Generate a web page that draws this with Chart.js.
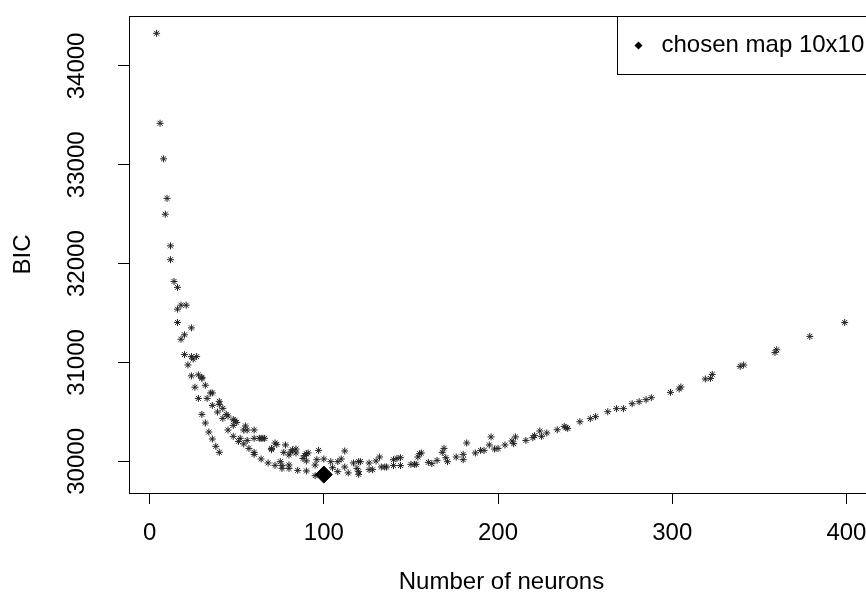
<!DOCTYPE html>
<html><head><meta charset="utf-8">
<script src="https://cdn.jsdelivr.net/npm/chart.js@4/dist/chart.umd.min.js"></script>
<style>
html,body{margin:0;padding:0;background:#fff;overflow:hidden;width:866px;height:605px}
#wrap{position:relative;width:900px;height:605px}
</style></head>
<body><div id="wrap"><canvas id="c" width="900" height="605"></canvas></div>
<script>
// Number of neurons (x) and BIC (y) for every trained map
const neurons = [4,6,8,9,10,12,12,14,16,18,21,16,16,24,20,18,20,24,25,27,22,24,28,30,30,26,32,35,36,28,33,40,40,36,39,42,44,45,42,30,48,49,50,48,32,34,45,55,54,56,60,36,48,52,51,60,63,64,65,66,38,54,56,57,40,60,60,64,68,72,70,70,72,73,75,76,76,80,80,85,90,78,77,81,82,84,84,80,88,89,90,91,90,96,97,100,95,95,104,105,108,108,110,112,112,114,117,119,120,121,120,120,126,126,128,130,132,133,135,136,140,140,142,144,144,150,152,153,154,155,156,160,162,165,168,169,170,171,176,180,180,182,187,190,192,196,195,198,200,204,208,210,209,216,220,221,224,225,228,234,238,239,240,247,253,256,263,268,272,277,281,285,288,299,304,305,319,322,323,339,341,359,360,379,399];
const bic = [34330,33420,33060,32500,32660,32180,32040,31820,31760,31580,31580,31540,31405,31350,31280,31235,31080,31060,31035,31060,30975,30865,30875,30850,30840,30750,30770,30692,30692,30637,30637,30607,30576,30566,30499,30536,30475,30459,30435,30475,30422,30412,30394,30364,30388,30297,30317,30358,30317,30317,30317,30226,30253,30233,30202,30233,30233,30233,30233,30233,30152,30176,30212,30131,30091,30091,30071,30024,29984,29960,30131,30118,30186,30172,29997,29957,29929,29964,29929,29909,29903,30166,30091,30095,30118,30125,30085,30065,30030,30058,30078,30085,30004,30017,30111,30024,29963,29855,29997,29936,29896,29997,30024,30105,29943,29883,29984,29929,29997,29997,29896,29869,29984,29916,29916,30004,30044,29943,29943,29943,29957,30017,30030,30037,29957,29970,29970,29970,30044,30078,30085,29990,29977,30010,30091,30131,30037,29997,30044,30071,30017,30186,30085,30111,30111,30247,30166,30125,30131,30166,30206,30247,30179,30212,30240,30260,30307,30253,30287,30320,30354,30341,30334,30401,30432,30452,30502,30533,30533,30583,30604,30624,30644,30698,30732,30752,30833,30839,30880,30961,30975,31102,31129,31264,31405];
// the chosen map
const chosenNeurons = [100];
const chosenBic = [29866];
// axis ticks
const xTicks = [0,100,200,300,400];
const yTicks = [30000,31000,32000,33000,34000];
const xLabel = 'Number of neurons';
const yLabel = 'BIC';
const legendLabel = 'chosen map 10x10';

const FONT = '"Liberation Sans", Arial, Helvetica, sans-serif';
const FSIZE = 24;

const boxPlugin = {
  id: 'rbox',
  afterDatasetsDraw(chart) {
    const {ctx, chartArea: a} = chart;
    ctx.save();
    ctx.strokeStyle = '#000';
    ctx.lineWidth = 1;
    ctx.strokeRect(Math.round(a.left) + 0.5, Math.round(a.top) + 0.5, Math.round(a.right - a.left), Math.round(a.bottom - a.top));
    // legend (top-right, inside the plot box)
    const w = 257, h = 58;
    const lx = Math.round(a.right - w) + 0.5, ly = Math.round(a.top) + 0.5;
    ctx.fillStyle = '#fff';
    ctx.fillRect(lx, ly, w, h);
    ctx.strokeRect(lx, ly, w, h);
    const cx = lx + 21, cy = ly + 29, r = 4;
    ctx.fillStyle = '#000';
    ctx.beginPath();
    ctx.moveTo(cx - r, cy); ctx.lineTo(cx, cy - r); ctx.lineTo(cx + r, cy); ctx.lineTo(cx, cy + r);
    ctx.closePath(); ctx.fill();
    ctx.font = FSIZE + 'px ' + FONT;
    ctx.textBaseline = 'middle';
    ctx.textAlign = 'left';
    ctx.fillText(legendLabel, lx + 44, cy);
    ctx.restore();
  }
};

new Chart(document.getElementById('c'), {
  type: 'scatter',
  data: {
    datasets: [
      {
        label: legendLabel,
        data: chosenNeurons.map((v, i) => ({x: v, y: chosenBic[i]})),
        pointStyle: 'rectRot', pointRadius: 8.5, pointHoverRadius: 8.5,
        backgroundColor: '#000', borderColor: '#000', borderWidth: 1, order: 0
      },
      {
        label: 'BIC',
        data: neurons.map((v, i) => ({x: v, y: bic[i]})),
        pointStyle: 'star', pointRadius: 3.5, pointHoverRadius: 3.5,
        backgroundColor: '#000', borderColor: '#222', borderWidth: 1, order: 1
      }
    ]
  },
  options: {
    responsive: false, animation: false, devicePixelRatio: 1,
    layout: {padding: {top: 16, right: 26, left: 0, bottom: 0}},
    plugins: {legend: {display: false}, tooltip: {enabled: false}},
    scales: {
      x: {
        type: 'linear', min: -11.84, max: 415.84,
        afterBuildTicks: s => { s.ticks = xTicks.map(v => ({value: v})); },
        afterFit: s => { s.height = 112; s.paddingLeft = 0; s.paddingRight = 0; },
        ticks: {font: {family: FONT, size: FSIZE}, color: '#000', padding: 14.6, maxRotation: 0, autoSkip: false, callback: v => String(v)},
        grid: {drawOnChartArea: false, drawTicks: true, tickLength: 11, color: '#000', lineWidth: 1},
        border: {display: false},
        title: {display: true, text: xLabel, color: '#000', font: {family: FONT, size: FSIZE}, padding: {top: 0, bottom: 8.6}}
      },
      y: {
        type: 'linear', min: 29680, max: 34505,
        afterBuildTicks: s => { s.ticks = yTicks.map(v => ({value: v})); },
        afterFit: s => { s.width = 129; s.paddingTop = 0; s.paddingBottom = 0; },
        ticks: {font: {family: FONT, size: FSIZE}, color: '#000', padding: 7.6, minRotation: 90, maxRotation: 90, crossAlign: 'center', autoSkip: false, callback: v => String(v)},
        grid: {drawOnChartArea: false, drawTicks: true, tickLength: 11, color: '#000', lineWidth: 1},
        border: {display: false},
        title: {display: true, text: yLabel, color: '#000', font: {family: FONT, size: FSIZE}, padding: {top: 9.1, bottom: 0}}
      }
    }
  },
  plugins: [boxPlugin]
});
</script>
</body></html>
